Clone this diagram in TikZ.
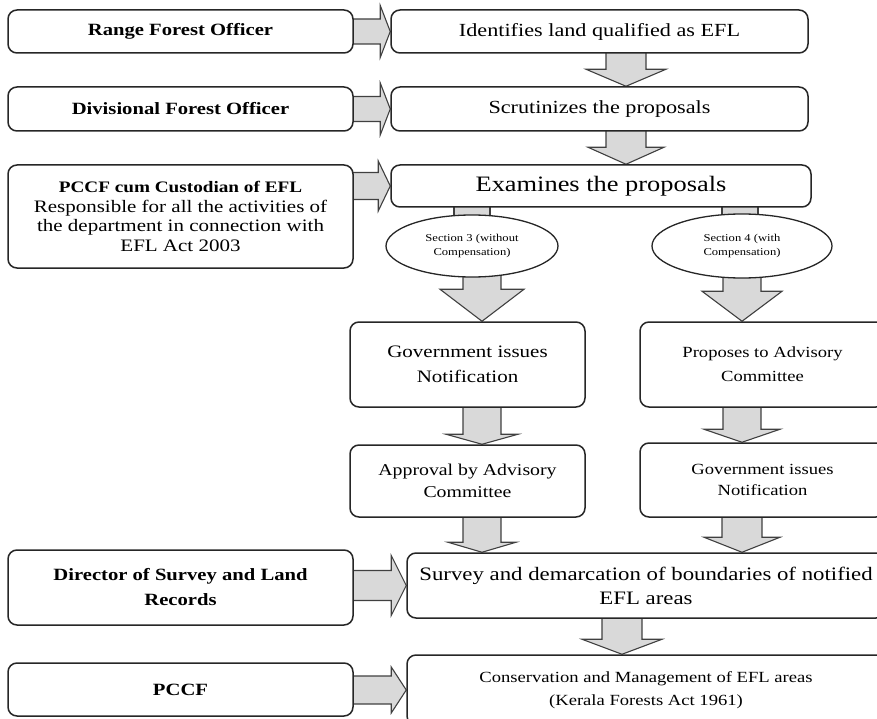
\documentclass[tikz,border=0pt]{standalone}
\usepackage{fontspec}
\setmainfont{Liberation Serif}[FakeStretch=1.2]
\usetikzlibrary{calc,backgrounds,shapes.geometric}
\newcommand\blkdown[6]{\path[blk] let \p1=(#1.south), \p2=(#2.north) in
 (#3pt-#4pt,\y1+4pt) -- (#3pt-#4pt,\y2+#6pt) -- (#3pt-#5pt,\y2+#6pt) -- (#3pt,\y2)
 -- (#3pt+#5pt,\y2+#6pt) -- (#3pt+#4pt,\y2+#6pt) -- (#3pt+#4pt,\y1+4pt) -- cycle;}
\newcommand\blkright[5]{\path[blk] let \p1=(#1.east), \p2=(#2.west) in
 (\x1-4pt,\y2+#3pt) -- (\x2-#5pt,\y2+#3pt) -- (\x2-#5pt,\y2+#4pt) -- (\x2,\y2)
 -- (\x2-#5pt,\y2-#4pt) -- (\x2-#5pt,\y2-#3pt) -- (\x1-4pt,\y2-#3pt) -- cycle;}
\newcommand\blkshaft[4]{\path[blk] let \p1=(#1.south), \p2=(#2.north) in
 (#3pt-#4pt,\y1+4pt) rectangle (#3pt+#4pt,\y2-8pt);}
\begin{document}
\begin{tikzpicture}[x=1pt,y=-1pt,
  box/.style={draw=black!85, line width=1.5pt, rounded corners=9pt, fill=white,
    align=center, inner sep=0pt},
  bx/.style 2 args={box, minimum width=#1pt, minimum height=#2pt},
  oval/.style={ellipse, draw=black!85, line width=1.3pt, fill=white, align=center, inner sep=0pt},
  blk/.style={draw=black!75, line width=1.1pt, fill=black!15, line join=miter},
  lb/.style={font=\fontsize{17.2}{19}\selectfont\bfseries},
  rt/.style={font=\fontsize{18.5}{20}\selectfont}]
\useasboundingbox (0,0) rectangle (877,719);
% left column
\node[bx={345}{43},lb] (rfo) at (180.5,31.5) {Range Forest Officer};
\node[bx={345}{44},lb] (dfo) at (180.5,109) {Divisional Forest Officer};
\node[bx={345}{103},font=\fontsize{17.5}{19.5}\selectfont] (pc1) at (180.5,216.5)
  {{\bfseries\fontsize{16}{19.5}\selectfont PCCF cum Custodian of EFL}\\Responsible for all the activities of\\the department in connection with\\EFL Act 2003};
\node[bx={345}{75},font=\fontsize{17.2}{25}\selectfont\bfseries] (dsl) at (180.5,587.5) {Director of Survey and Land\\Records};
\node[bx={345}{53},lb] (pc2) at (180.5,689.5) {PCCF};
% right column
\node[bx={417}{43},rt] (idf) at (599.5,31.5) {Identifies land qualified as EFL};
\node[bx={417}{44},rt] (scr) at (599.5,109) {Scrutinizes the proposals};
\node[bx={420}{42},font=\fontsize{22}{24}\selectfont] (exa) at (601,186) {Examines the proposals};
\node[oval,minimum width=172pt,minimum height=62pt,font=\fontsize{10.5}{14}\selectfont] (e1) at (472,246) {Section 3 (without\\Compensation)};
\node[oval,minimum width=180pt,minimum height=64pt,font=\fontsize{10.5}{14}\selectfont] (e2) at (742,246) {Section 4 (with\\Compensation)};
\node[bx={235}{85},font=\fontsize{17.5}{25}\selectfont] (gv1) at (467.5,364.5) {Government issues\\Notification};
\node[bx={245}{85},font=\fontsize{15.5}{24}\selectfont] (prp) at (762.5,364.5) {Proposes to Advisory\\Committee};
\node[bx={235}{72},font=\fontsize{16.5}{22}\selectfont] (app) at (467.5,481) {Approval by Advisory\\Committee};
\node[bx={245}{74},font=\fontsize{15.5}{21}\selectfont] (gv2) at (762.5,480) {Government issues\\Notification};
\node[bx={478}{65},font=\fontsize{19}{24}\selectfont] (sur) at (646,585.5) {Survey and demarcation of boundaries of notified\\EFL areas};
\node[bx={478}{70},font=\fontsize{15.5}{23}\selectfont] (con) at (646,690) {Conservation and Management of EFL areas\\(Kerala Forests Act 1961)};
% block arrows
\begin{scope}[on background layer]
\blkright{rfo}{idf}{12.5}{26}{10}
\blkright{dfo}{scr}{12.5}{26}{10}
\blkright{pc1}{exa}{13.5}{25}{12}
\blkright{dsl}{sur}{15}{30}{15}
\blkright{pc2}{con}{14}{23}{15}
\blkdown{idf}{scr}{626}{20}{40}{17}
\blkdown{scr}{exa}{626}{20}{38}{17}
\blkshaft{exa}{e1}{472}{18}
\blkshaft{exa}{e2}{740}{18}
\blkdown{e1}{gv1}{482}{19}{42}{32}
\blkdown{e2}{prp}{742}{19}{40}{30}
\blkdown{gv1}{app}{482}{19}{36}{10}
\blkdown{app}{sur}{482}{19}{34}{10}
\blkdown{prp}{gv2}{742}{19}{38}{13}
\blkdown{gv2}{sur}{742}{20}{38}{15}
\blkdown{sur}{con}{622}{20}{40}{15}
\end{scope}
\end{tikzpicture}
\end{document}
